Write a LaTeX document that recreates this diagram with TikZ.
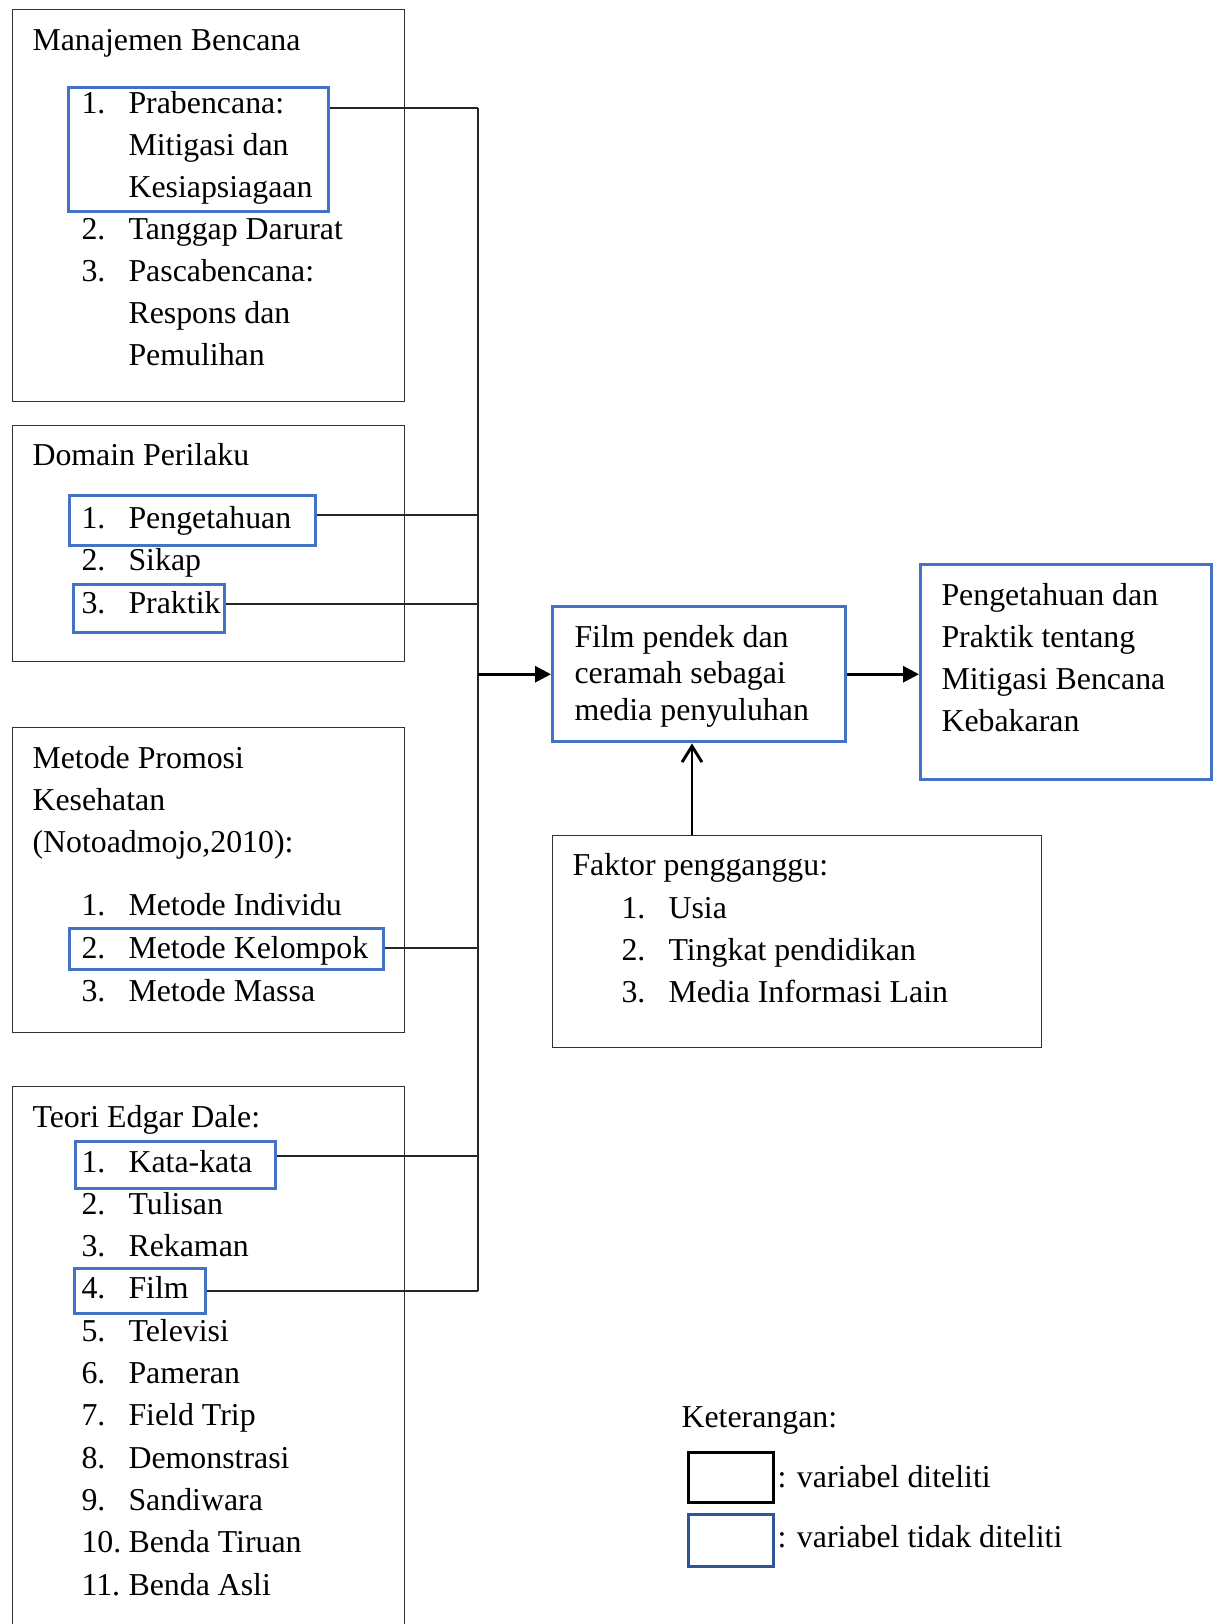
\documentclass[tikz,border=0pt]{standalone}
\usepackage{fontspec}
\setmainfont{Liberation Serif}
\usetikzlibrary{arrows.meta}

\definecolor{wordblue}{RGB}{68,114,196}
\definecolor{legblue}{RGB}{47,85,151}
\newdimen\pxu \pxu=0.3768pt

\begin{document}
\begin{tikzpicture}[
  x=0.3768pt, y=-0.3768pt,
  font=\fontsize{12}{14}\selectfont,
  txt/.style={anchor=base west, inner sep=0pt},
  outer/.style={draw=black!80, line width=0.55pt, anchor=north west, inner sep=0pt},
  hilite/.style={draw=wordblue, line width=1.3pt, anchor=north west, inner sep=0pt},
  link/.style={black!85, line width=0.6pt},
  arr/.style={-{Triangle[length=6pt, width=6pt]}, line width=1.1pt},
  openarr/.style={-{Straight Barb[length=6pt, width=7.5pt]}, line width=1.1pt},
]
\useasboundingbox (0,0) rectangle (1220,1624);

% --- left column: source boxes ---
\node[outer, minimum width=392\pxu, minimum height=392\pxu] (mb)  at (12,9)    {};
\node[outer, minimum width=392\pxu, minimum height=236\pxu] (dp)  at (12,425)  {};
\node[outer, minimum width=392\pxu, minimum height=305\pxu] (mpk) at (12,727)  {};
\node[outer, minimum width=392\pxu, minimum height=600\pxu] (ted) at (12,1086) {};

% Manajemen Bencana
\node[txt] (mb-title) at (32,50) {Manajemen Bencana};
\node[txt] (mb-n1) at (81,113)  {1.};
\node[txt] (mb-t1) at (128,113) {Prabencana:};
\node[txt] (mb-t1b) at (128,155) {Mitigasi dan};
\node[txt] (mb-t1c) at (128,197) {Kesiapsiagaan};
\node[txt] (mb-n2) at (81,239)  {2.};
\node[txt] (mb-t2) at (128,239) {Tanggap Darurat};
\node[txt] (mb-n3) at (81,281)  {3.};
\node[txt] (mb-t3) at (128,281) {Pascabencana:};
\node[txt] (mb-t3b) at (128,323) {Respons dan};
\node[txt] (mb-t3c) at (128,365) {Pemulihan};

% Domain Perilaku
\node[txt] (dp-title) at (32,465) {Domain Perilaku};
\foreach \t [count=\i] in {Pengetahuan, Sikap, Praktik} {
  \node[txt] (dp-n\i) at (81,528+42.5*\i-42.5)  {\i.};
  \node[txt] (dp-t\i) at (128,528+42.5*\i-42.5) {\t};
}

% Metode Promosi Kesehatan
\node[txt] (mpk-title)  at (32,768) {Metode Promosi};
\node[txt] (mpk-title2) at (32,810) {Kesehatan};
\node[txt] (mpk-title3) at (32,852) {(Notoadmojo,2010):};
\foreach \t [count=\i] in {Metode Individu, Metode Kelompok, Metode Massa} {
  \node[txt] (mpk-n\i) at (81,915+43*\i-43)  {\i.};
  \node[txt] (mpk-t\i) at (128,915+43*\i-43) {\t};
}

% Teori Edgar Dale
\node[txt] (ted-title) at (32,1127) {Teori Edgar Dale:};
\foreach \t [count=\i] in {Kata-kata, Tulisan, Rekaman, Film, Televisi, Pameran,
    Field Trip, Demonstrasi, Sandiwara, Benda Tiruan, Benda Asli} {
  \node[txt] (ted-n\i) at (81,1172+42.3*\i-42.3)  {\i.};
  \node[txt] (ted-t\i) at (128,1172+42.3*\i-42.3) {\t};
}

% highlighted items (blue)
\node[hilite, minimum width=260\pxu, minimum height=124\pxu] (pra)   at (67,86)   {};
\node[hilite, minimum width=246\pxu, minimum height=50\pxu]  (peng)  at (68,494)  {};
\node[hilite, minimum width=151\pxu, minimum height=48\pxu]  (prak)  at (72,583)  {};
\node[hilite, minimum width=314\pxu, minimum height=41\pxu]  (kel)   at (68,927)  {};
\node[hilite, minimum width=200\pxu, minimum height=47\pxu]  (kata)  at (74,1140) {};
\node[hilite, minimum width=131\pxu, minimum height=45\pxu]  (filmi) at (73,1267) {};

% --- bus joints ---
\coordinate (j1) at (478,108);
\coordinate (j2) at (478,515);
\coordinate (j3) at (478,604);
\coordinate (j4) at (478,948);
\coordinate (j5) at (478,1156);
\coordinate (j6) at (478,1291);

\draw[link] (j1) -- (j6);
\draw[link] (pra.east |- j1)   -- (j1);
\draw[link] (peng.east |- j2)  -- (j2);
\draw[link] (prak.east |- j3)  -- (j3);
\draw[link] (kel.east |- j4)   -- (j4);
\draw[link] (kata.east |- j5)  -- (j5);
\draw[link] (filmi.east |- j6) -- (j6);

% --- middle and right ---
\node[hilite, minimum width=293\pxu, minimum height=135\pxu] (film)  at (551,605) {};
\foreach \t [count=\i] in {Film pendek dan, ceramah sebagai, media penyuluhan}
  \node[txt] (film-l\i) at (574,647+36.5*\i-36.5) {\t};

\node[hilite, minimum width=291\pxu, minimum height=215\pxu] (hasil) at (919,563) {};
\foreach \t [count=\i] in {Pengetahuan dan, Praktik tentang, Mitigasi Bencana, Kebakaran}
  \node[txt] (hasil-l\i) at (941,605+42*\i-42) {\t};

\node[outer, minimum width=489\pxu, minimum height=212\pxu] (faktor) at (552,835) {};
\node[txt] (faktor-title) at (572,875) {Faktor pengganggu:};
\foreach \t [count=\i] in {Usia, Tingkat pendidikan, Media Informasi Lain} {
  \node[txt] (faktor-n\i) at (621,918+42*\i-42) {\i.};
  \node[txt] (faktor-t\i) at (668,918+42*\i-42) {\t};
}

\draw[arr] (film.west -| j1) -- (film.west);
\draw[arr] (film.east) -- (film.east -| hasil.west);
\draw[openarr] (faktor.north -| 692,0) -- (film.south -| 692,0);

% --- legend ---
\node[txt] (ket) at (681,1427) {Keterangan:};
\node[draw=black, line width=1.3pt, anchor=north west, inner sep=0pt,
      minimum width=85\pxu, minimum height=50\pxu] (leg1) at (687,1451) {};
\node[draw=legblue, line width=1.3pt, anchor=north west, inner sep=0pt,
      minimum width=85\pxu, minimum height=52\pxu] (leg2) at (687,1513) {};
\node[txt] (leg1-txt) at (777,1487) {: variabel diteliti};
\node[txt] (leg2-txt) at (777,1547) {: variabel tidak diteliti};

\end{tikzpicture}
\end{document}
